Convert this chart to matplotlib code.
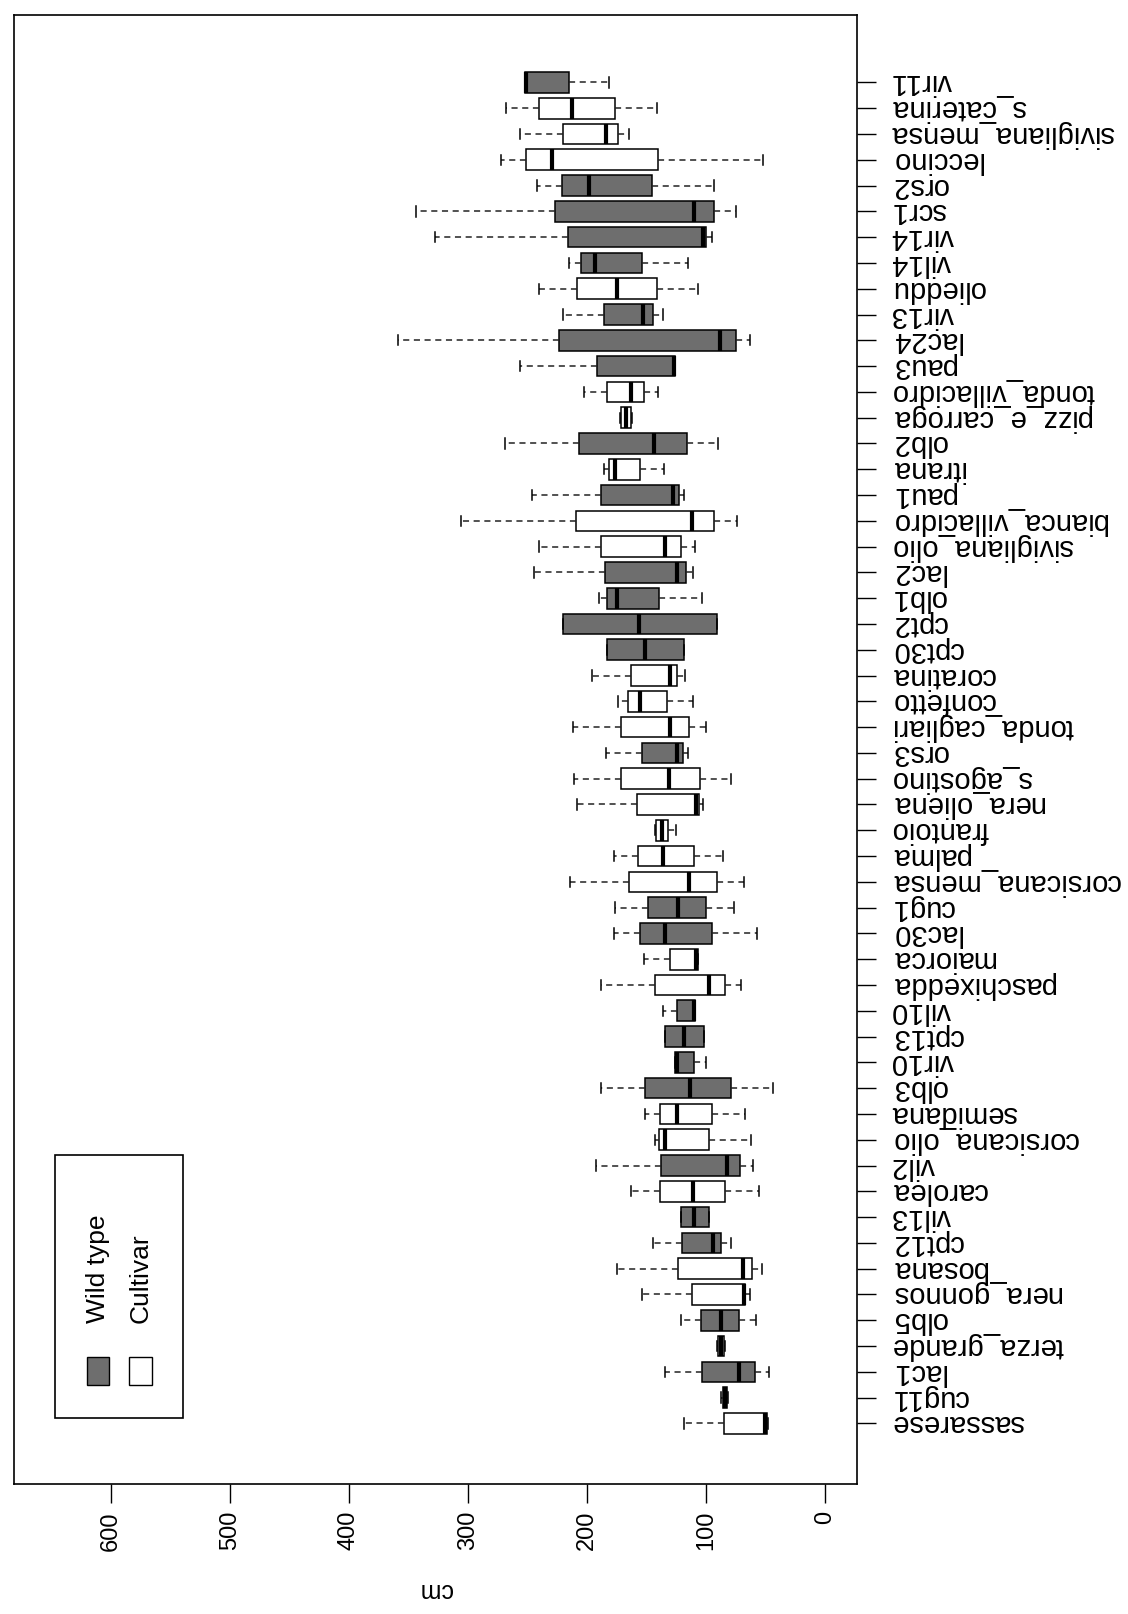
import matplotlib
matplotlib.use('Agg')
import matplotlib.pyplot as plt
from matplotlib.patches import Rectangle

plt.rcParams['font.family'] = ['Liberation Sans', 'DejaVu Sans']

categories = ['sassarese', 'cug11', 'lac1', 'terza_grande', 'olb5', 'nera_gonnos',
              'bosana', 'cpt12', 'vil13', 'carolea', 'vil2', 'corsicana_olio',
              'semidana', 'olb3', 'vir10', 'cpt13', 'vil10', 'paschixedda',
              'maiorca', 'lac30', 'cug1', 'corsicana_mensa', 'palma', 'frantoio',
              'nera_oliena', 's_agostino', 'ors3', 'tonda_cagliari', 'confetto',
              'coratina', 'cpt30', 'cpt2', 'olb1', 'lac2', 'sivigliana_olio',
              'bianca_villacidro', 'pau1', 'itrana', 'olb2', 'pizz_e_carroga',
              'tonda_villacidro', 'pau3', 'lac24', 'vir13', 'olieddu', 'vil14',
              'vir14', 'scr1', 'ors2', 'leccino', 'sivigliana_mensa',
              's_caterina', 'vir11']
kind = ['C', 'W', 'W', 'C', 'W', 'C',
        'C', 'W', 'W', 'C', 'W', 'C',
        'C', 'W', 'W', 'W', 'W', 'C',
        'C', 'W', 'W', 'C', 'C', 'C',
        'C', 'C', 'W', 'C', 'C',
        'C', 'W', 'W', 'W', 'W', 'C',
        'C', 'W', 'C', 'W', 'C',
        'C', 'W', 'W', 'W', 'C', 'W',
        'W', 'W', 'W', 'C', 'C',
        'C', 'W']
whislo = [48, 81, 47, 84, 57.5, 63,
          53, 78.5, 97.6, 55, 60, 62,
          67, 44, 99.5, 101.5, 108.8, 70.6,
          106.5, 57, 76, 68, 85.5, 125,
          102, 78.5, 115, 99.5, 111,
          117.5, 118.6, 91, 103, 111, 109,
          74, 118, 135, 90, 162,
          140, 125.6, 63, 136, 107, 115,
          95, 75, 93, 52, 164.6,
          141, 181]
q1 = [49, 82, 59, 85, 72, 66.7,
      61, 87, 97.6, 83.5, 71, 97,
      95, 78.5, 110, 101.5, 108.8, 84,
      106.5, 94.5, 99.5, 90.6, 110, 132,
      106, 105, 119, 114, 133,
      124, 118.6, 91, 139, 117, 120.5,
      93, 122.5, 155.6, 116, 163,
      152, 125.6, 75, 144, 141, 154,
      99.5, 93, 145.5, 140.5, 173.5,
      176, 215]
med = [50.5, 84, 72, 87, 87.5, 68,
       69, 94, 110, 111, 82, 134,
       124, 113, 124, 118, 110, 97,
       108, 134, 123, 114, 136, 137,
       108, 131, 124, 130, 155,
       130, 151, 156, 175, 124, 134,
       112, 127.6, 176, 143.5, 167,
       163, 126.5, 88, 153, 175, 193,
       102, 110, 198, 229, 183.6,
       212.5, 251]
q3 = [85, 86, 103, 90, 104, 112,
      123, 120, 121, 138.5, 138, 139.6,
      138.5, 151, 125.6, 134, 124, 143,
      130, 155.6, 149, 164.6, 157, 141.6,
      158, 171, 154, 171, 165,
      163, 183, 220, 183, 185, 188,
      209, 188, 181, 206.6, 171,
      183, 191.5, 223, 186, 208, 205,
      216, 227, 220.6, 251, 220,
      240, 252]
whishi = [118, 87, 134, 91, 121, 154,
          175, 144, 121, 163, 192, 143,
          151, 188, 125.6, 134, 136, 188,
          152, 177, 176, 214.5, 177, 143,
          208, 211, 184, 212, 174,
          196, 183, 220, 190, 244, 240,
          306, 246, 186, 269, 172,
          202, 256, 359, 220, 240, 215,
          328, 343.5, 242, 272.5, 256.5,
          268, 252]
value_ticks = [0, 100, 200, 300, 400, 500, 600]
legend_labels = ['Wild type', 'Cultivar']
axis_label = 'cm'

GREY = '#6e6e6e'
W, H = 1128, 1614
fig = plt.figure(figsize=(W / 100, H / 100), dpi=100)
fig.patch.set_facecolor('white')

L, R, T, B = 14.4, 857, 15.4, 1484
ax = fig.add_axes([L / W, 1 - B / H, (R - L) / W, (B - T) / H])

stats = [dict(med=m, q1=a, q3=b, whislo=lo, whishi=hi, fliers=[], label=c)
         for c, lo, a, m, b, hi in zip(categories, whislo, q1, med, q3, whishi)]
pos = list(range(1, len(categories) + 1))
bp = ax.bxp(stats, positions=pos, widths=0.8, orientation='horizontal',
            patch_artist=True, showfliers=False, capwidths=0.4,
            boxprops=dict(edgecolor='black', linewidth=1.1),
            whiskerprops=dict(color='#222222', linestyle=(0, (4, 3)), linewidth=1.1),
            capprops=dict(color='black', linewidth=1.1),
            medianprops=dict(color='black', linewidth=3.0, solid_capstyle='butt'))
for patch, k in zip(bp['boxes'], kind):
    patch.set_facecolor(GREY if k == 'W' else 'white')

ax.set_xlim(681, -27)
ax.set_ylim(-1.35, 55.6)

ax.set_xticks(value_ticks)
ax.set_xticklabels([str(v) for v in value_ticks], rotation=90, fontsize=17)
ax.yaxis.tick_right()
ax.set_yticks(pos)
ax.set_yticklabels(categories, rotation=180, ha='left', va='center', fontsize=21)
ax.tick_params(axis='x', length=13.5, width=1.0, pad=6)
ax.tick_params(axis='y', length=13.5, width=1.0, pad=11)
for s in ax.spines.values():
    s.set_linewidth(1.2)

# axis label (rotated like the rest of the figure)
fig.text(435 / W, 1 - 1590 / H, axis_label, rotation=180, ha='center', va='center',
         fontsize=18)

# legend drawn manually (rotated)
tf = fig.transFigure
def fx(x):
    return x / W
def fy(y):
    return 1 - y / H
fig.patches.append(Rectangle((fx(54.5), fy(1418)), (183 - 54.5) / W, (1418 - 1155) / H,
                             transform=tf, facecolor='white', edgecolor='black',
                             linewidth=1.2, zorder=5))
for xl, fc, lab in [(86.7, GREY, legend_labels[0]), (129, 'white', legend_labels[1])]:
    fig.patches.append(Rectangle((fx(xl), fy(1385)), 22.5 / W, 28.5 / H, transform=tf,
                                 facecolor=fc, edgecolor='black', linewidth=1.0, zorder=6))
    fig.text(fx(xl + 11.5), fy(1323), lab, rotation=90, ha='center', va='bottom',
             fontsize=19, zorder=7)

fig.savefig('out.png', dpi=100)
